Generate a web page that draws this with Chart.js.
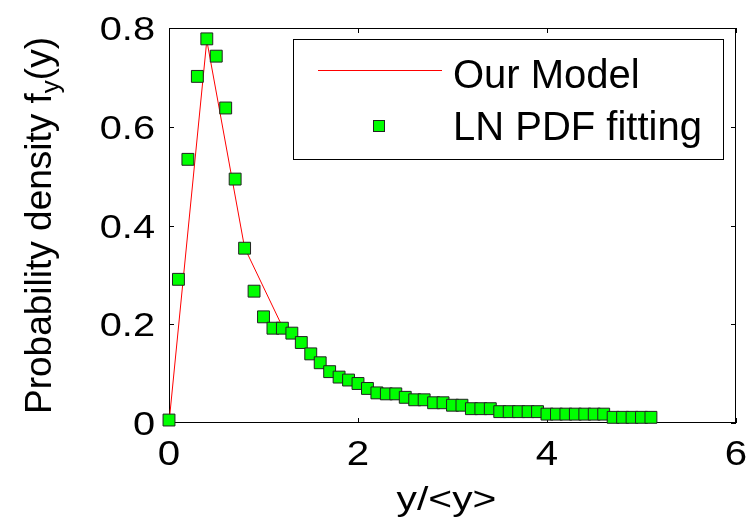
<!DOCTYPE html>
<html>
<head>
<meta charset="utf-8">
<script src="https://cdn.jsdelivr.net/npm/chart.js@4"></script>
<style>
  html, body { margin: 0; padding: 0; background: #fff; }
  canvas { display: block; }
</style>
</head>
<body>
<canvas id="pdfChart" width="754" height="522"></canvas>
<script>
  // LN PDF fitting (green squares)
  const fitX = [0, 0.1, 0.2, 0.3, 0.4, 0.5, 0.6, 0.7, 0.8, 0.9,
                1.0, 1.1, 1.2, 1.3, 1.4, 1.5, 1.6, 1.7, 1.8, 1.9,
                2.0, 2.1, 2.2, 2.3, 2.4, 2.5, 2.6, 2.7, 2.8, 2.9,
                3.0, 3.1, 3.2, 3.3, 3.4, 3.5, 3.6, 3.7, 3.8, 3.9,
                4.0, 4.1, 4.2, 4.3, 4.4, 4.5, 4.6, 4.7, 4.8, 4.9,
                5.0, 5.1];
  const fitY = [0.006, 0.291, 0.534, 0.702, 0.778, 0.743, 0.638, 0.494, 0.354, 0.267,
                0.215, 0.192, 0.192, 0.182, 0.163, 0.140, 0.122, 0.104, 0.093, 0.087,
                0.080, 0.070, 0.061, 0.059, 0.059, 0.052, 0.047, 0.047, 0.041, 0.041,
                0.036, 0.036, 0.029, 0.029, 0.029, 0.023, 0.023, 0.023, 0.023, 0.023,
                0.018, 0.018, 0.018, 0.018, 0.018, 0.018, 0.018, 0.0115, 0.0115, 0.0115,
                0.0115, 0.0115];

  // Our Model (red line)
  const modelX = [0, 0.4, 0.8, 1.2, 1.6, 2.0, 2.4, 2.8, 3.2, 3.6, 4.0, 4.4, 4.8];
  const modelY = [0, 0.775, 0.355, 0.195, 0.122, 0.080, 0.057, 0.041, 0.030, 0.023, 0.018, 0.016, 0.012];

  const xTickValues = [0, 2, 4, 6];
  const xTickLabels = ['0', '2', '4', '6'];
  const yTickValues = [0, 0.2, 0.4, 0.6, 0.8];
  const yTickLabels = ['0', '0.2', '0.4', '0.6', '0.8'];

  const seriesNames = ['Our Model', 'LN PDF fitting'];
  const xTitle = 'y/<y>';

  const FONT = '"Liberation Sans", Arial, sans-serif';
  const GREEN = '#00ff00';
  const RED = '#ff0000';

  // texte avec étirement horizontal (comme dans la figure d'origine)
  function drawText(ctx, str, x, y, size, sx, align, baseline) {
    ctx.save();
    ctx.translate(x, y);
    ctx.scale(sx, 1);
    ctx.font = size + 'px ' + FONT;
    ctx.fillStyle = '#000';
    ctx.textAlign = align;
    ctx.textBaseline = baseline;
    ctx.fillText(str, 0, 0);
    ctx.restore();
  }

  // cadre + graduations vers l'intérieur, sous les marqueurs
  const framePlugin = {
    id: 'frame',
    beforeDatasetsDraw(chart) {
      const ctx = chart.ctx;
      const a = chart.chartArea;
      const xs = chart.scales.x, ys = chart.scales.y;
      const tl = 5;
      ctx.save();
      ctx.strokeStyle = '#000';
      ctx.lineWidth = 1;
      ctx.strokeRect(a.left + 0.5, a.top + 0.5, a.right - a.left - 1, a.bottom - a.top - 1);
      ctx.beginPath();
      xs.ticks.forEach(t => {
        const px = Math.round(xs.getPixelForValue(t.value)) + 0.5;
        ctx.moveTo(px, a.bottom); ctx.lineTo(px, a.bottom - tl);
        ctx.moveTo(px, a.top); ctx.lineTo(px, a.top + tl);
      });
      ys.ticks.forEach(t => {
        const py = Math.round(ys.getPixelForValue(t.value)) + 0.5;
        ctx.moveTo(a.left, py); ctx.lineTo(a.left + tl, py);
        ctx.moveTo(a.right, py); ctx.lineTo(a.right - tl, py);
      });
      ctx.stroke();
      ctx.restore();
    },
    afterDraw(chart) {
      const ctx = chart.ctx;
      const a = chart.chartArea;
      const xs = chart.scales.x, ys = chart.scales.y;

      // étiquettes des graduations
      xs.ticks.forEach((t, i) => {
        drawText(ctx, xTickLabels[i], xs.getPixelForValue(t.value), a.bottom + 42, 35, 1.15, 'center', 'alphabetic');
      });
      ys.ticks.forEach((t, i) => {
        drawText(ctx, yTickLabels[i], a.left - 14, ys.getPixelForValue(t.value) + 12, 34, 1.17, 'right', 'alphabetic');
      });

      // titre de l'axe x
      drawText(ctx, xTitle, (a.left + a.right) / 2 - 6, 510, 34, 1.2, 'center', 'alphabetic');

      // titre de l'axe y avec indice
      ctx.save();
      const big = 37, small = 26;
      ctx.font = big + 'px ' + FONT;
      const w1 = ctx.measureText('Probability density f').width;
      const w3 = ctx.measureText('(y)').width;
      ctx.font = small + 'px ' + FONT;
      const w2 = ctx.measureText('y').width;
      const total = w1 + w2 + w3;
      ctx.translate(51, (a.top + a.bottom) / 2);
      ctx.rotate(-Math.PI / 2);
      ctx.fillStyle = '#000';
      ctx.textBaseline = 'alphabetic';
      ctx.textAlign = 'left';
      let x0 = -total / 2;
      ctx.font = big + 'px ' + FONT;
      ctx.fillText('Probability density f', x0, 0);
      ctx.font = small + 'px ' + FONT;
      ctx.fillText('y', x0 + w1, 8);
      ctx.font = big + 'px ' + FONT;
      ctx.fillText('(y)', x0 + w1 + w2, 0);
      ctx.restore();

      // légende
      ctx.save();
      ctx.fillStyle = '#fff';
      ctx.fillRect(293, 39, 430, 120);
      ctx.strokeStyle = '#000';
      ctx.lineWidth = 1;
      ctx.strokeRect(293.5, 39.5, 430, 120);
      ctx.strokeStyle = RED;
      ctx.beginPath();
      ctx.moveTo(318, 70.5); ctx.lineTo(442, 70.5);
      ctx.stroke();
      ctx.fillStyle = GREEN;
      ctx.strokeStyle = '#222';
      ctx.fillRect(373, 120, 12, 12);
      ctx.strokeRect(373.5, 120.5, 11, 11);
      ctx.restore();
      drawText(ctx, seriesNames[0], 453, 88, 40, 1, 'left', 'alphabetic');
      drawText(ctx, seriesNames[1], 453, 140, 40, 1, 'left', 'alphabetic');
    }
  };

  const ctx = document.getElementById('pdfChart').getContext('2d');
  const pdfChart = new Chart(ctx, {
    type: 'scatter',
    data: {
      datasets: [
        {
          label: seriesNames[1],
          data: fitX.map((x, i) => ({ x: x, y: fitY[i] })),
          pointStyle: 'rect',
          pointRadius: 8.4,
          pointBackgroundColor: GREEN,
          pointBorderColor: '#222',
          pointBorderWidth: 1,
          showLine: false,
          clip: false,
          order: 0
        },
        {
          label: seriesNames[0],
          data: modelX.map((x, i) => ({ x: x, y: modelY[i] })),
          showLine: true,
          borderColor: RED,
          borderWidth: 1,
          pointRadius: 0,
          tension: 0,
          clip: false,
          order: 1
        }
      ]
    },
    options: {
      responsive: false,
      animation: false,
      devicePixelRatio: 1,
      layout: { padding: { top: 28, right: 18, left: 0, bottom: 0 } },
      plugins: {
        legend: { display: false },
        tooltip: { enabled: false }
      },
      scales: {
        x: {
          type: 'linear',
          min: 0, max: 6,
          afterBuildTicks: s => { s.ticks = xTickValues.map(v => ({ value: v })); },
          afterFit: s => { s.height = 99; },
          ticks: { display: false },
          grid: { display: false },
          border: { display: false }
        },
        y: {
          type: 'linear',
          min: 0, max: 0.8,
          afterBuildTicks: s => { s.ticks = yTickValues.map(v => ({ value: v })); },
          afterFit: s => { s.width = 169; },
          ticks: { display: false },
          grid: { display: false },
          border: { display: false }
        }
      }
    },
    plugins: [framePlugin]
  });
</script>
</body>
</html>
